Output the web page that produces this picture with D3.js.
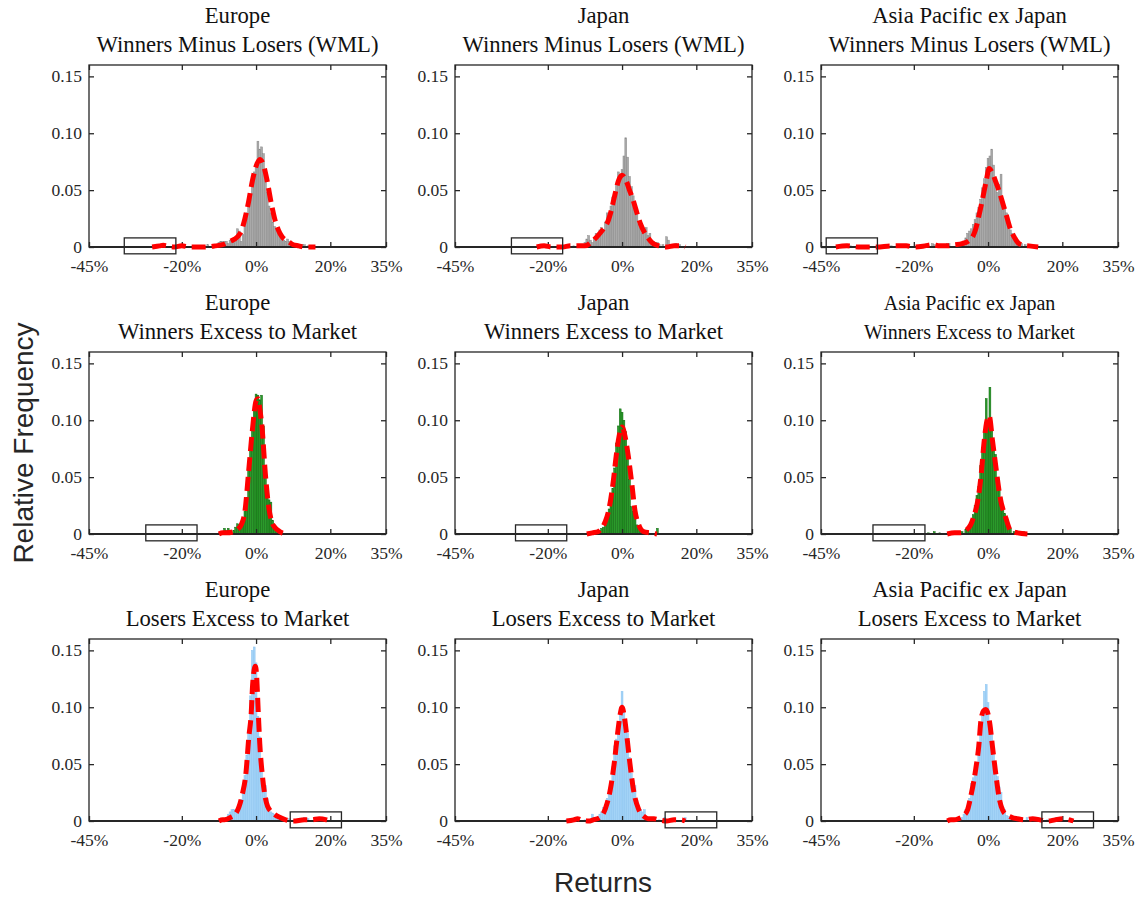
<!DOCTYPE html>
<html>
<head>
<meta charset="utf-8">
<script src="https://cdn.jsdelivr.net/npm/d3@7"></script>
<style>
  body { margin: 0; background: #fff; }
  svg { display: block; }
  .serif { font-family: "Liberation Serif", "DejaVu Serif", serif; font-variant-numeric: oldstyle-nums; }
</style>
</head>
<body>
<svg id="chart" width="1138" height="899"></svg>
<script>
// Panel labels
const regions = ["Europe", "Japan", "Asia Pacific ex Japan"];
const strategies = ["Winners Minus Losers (WML)", "Winners Excess to Market", "Losers Excess to Market"];

// Axis ticks (returns in %, relative frequency)
const xTickValues = [-45, -20, 0, 20, 35];
const xTickLabels = ["-45%", "-20%", "0%", "20%", "35%"];
const yTickValues = [0, 0.05, 0.10, 0.15];
const yTickLabels = ["0", "0.05", "0.10", "0.15"];
const binWidth = 0.5; // histogram bin width, in %

// Histograms: [bin centre %, relative frequency]
const euWmlHist = [[-26.5,0.001],[-25,0.001],[-20,0.001],[-13,0.002],[-11,0.002],[-10,0.004],[-9.5,0.005],[-9,0.005],[-8.5,0.005],[-8,0.005],[-7.5,0.003],[-7,0.006],[-6.5,0.006],[-6,0.004],[-5.5,0.006],[-5,0.016],[-4.5,0.014],[-4,0.005],[-3.5,0.011],[-3,0.022],[-2.5,0.030],[-2,0.043],[-1.5,0.046],[-1,0.058],[-0.5,0.066],[0,0.072],[0.5,0.093],[1,0.086],[1.5,0.088],[2,0.082],[2.5,0.062],[3,0.048],[3.5,0.036],[4,0.030],[4.5,0.022],[5,0.018],[5.5,0.016],[6,0.017],[6.5,0.010],[7,0.008],[7.5,0.006],[8,0.005],[8.5,0.007],[9,0.005],[9.5,0.003],[10,0.003],[11,0.001],[12.5,0.002],[13,0.002],[14,0.001]];
const jpWmlHist = [[-21,0.001],[-17,0.001],[-13,0.001],[-11,0.002],[-10,0.004],[-9.5,0.007],[-9,0.010],[-8.5,0.006],[-8,0.004],[-7.5,0.008],[-7,0.012],[-6.5,0.009],[-6,0.015],[-5.5,0.017],[-5,0.014],[-4.5,0.022],[-4,0.030],[-3.5,0.028],[-3,0.036],[-2.5,0.044],[-2,0.048],[-1.5,0.055],[-1,0.066],[-0.5,0.064],[0,0.068],[0.5,0.080],[1,0.096],[1.5,0.079],[2,0.062],[2.5,0.053],[3,0.045],[3.5,0.034],[4,0.030],[4.5,0.020],[5,0.019],[5.5,0.012],[6,0.016],[6.5,0.017],[7,0.010],[7.5,0.012],[8,0.006],[8.5,0.005],[9,0.004],[9.5,0.004],[10,0.002],[11,0.002],[12,0.009],[12.5,0.006],[13,0.002],[14.5,0.003],[15.5,0.002]];
const apWmlHist = [[-40,0.001],[-37,0.001],[-26,0.001],[-22,0.001],[-19,0.001],[-15,0.003],[-14.5,0.002],[-11,0.003],[-10.5,0.003],[-8,0.002],[-7,0.004],[-6.5,0.005],[-6,0.008],[-5.5,0.012],[-5,0.014],[-4.5,0.016],[-4,0.020],[-3.5,0.024],[-3,0.030],[-2.5,0.035],[-2,0.042],[-1.5,0.052],[-1,0.060],[-0.5,0.070],[0,0.078],[0.5,0.080],[1,0.086],[1.5,0.072],[2,0.054],[2.5,0.048],[3,0.055],[3.5,0.064],[4,0.040],[4.5,0.034],[5,0.030],[5.5,0.020],[6,0.015],[6.5,0.012],[7,0.008],[7.5,0.008],[8,0.005],[8.5,0.004],[9,0.003],[10,0.002],[11,0.001],[13,0.001]];
const euWinHist = [[-9,0.002],[-8.5,0.005],[-8,0.003],[-7.5,0.005],[-6,0.003],[-5.5,0.006],[-5,0.009],[-4.5,0.008],[-4,0.011],[-3.5,0.014],[-3,0.020],[-2.5,0.032],[-2,0.058],[-1.5,0.080],[-1,0.100],[-0.5,0.112],[0,0.123],[0.5,0.122],[1,0.118],[1.5,0.122],[2,0.095],[2.5,0.055],[3,0.032],[3.5,0.030],[4,0.028],[4.5,0.012],[5,0.006],[5.5,0.004],[6,0.002],[7,0.001]];
const jpWinHist = [[-8,0.001],[-7,0.002],[-6,0.003],[-5.5,0.005],[-5,0.006],[-4.5,0.008],[-4,0.015],[-3.5,0.022],[-3,0.031],[-2.5,0.040],[-2,0.058],[-1.5,0.080],[-1,0.095],[-0.5,0.110],[0,0.107],[0.5,0.100],[1,0.090],[1.5,0.068],[2,0.048],[2.5,0.024],[3,0.020],[3.5,0.015],[4,0.008],[4.5,0.006],[5,0.005],[6,0.002],[7,0.001],[9.5,0.005]];
const apWinHist = [[-16,0.001],[-14.5,0.002],[-13,0.001],[-10.5,0.001],[-8,0.002],[-7,0.002],[-6,0.004],[-5.5,0.005],[-5,0.008],[-4.5,0.012],[-4,0.017],[-3.5,0.025],[-3,0.034],[-2.5,0.042],[-2,0.060],[-1.5,0.076],[-1,0.092],[-0.5,0.119],[0,0.100],[0.5,0.129],[1,0.092],[1.5,0.074],[2,0.070],[2.5,0.050],[3,0.040],[3.5,0.032],[4,0.024],[4.5,0.018],[5,0.012],[5.5,0.008],[6,0.005],[7,0.002],[8,0.001],[9.5,0.002]];
const euLosHist = [[-9.5,0.001],[-8.5,0.002],[-8,0.003],[-7.5,0.006],[-7,0.008],[-6.5,0.010],[-6,0.010],[-5.5,0.009],[-5,0.010],[-4.5,0.012],[-4,0.019],[-3.5,0.030],[-3,0.040],[-2.5,0.058],[-2,0.080],[-1.5,0.110],[-1,0.150],[-0.5,0.153],[0,0.139],[0.5,0.092],[1,0.074],[1.5,0.052],[2,0.034],[2.5,0.031],[3,0.020],[3.5,0.012],[4,0.008],[4.5,0.007],[5,0.006],[5.5,0.004],[6,0.003],[6.5,0.002],[8,0.002],[9,0.002],[10.5,0.001],[13,0.003],[14,0.002]];
const jpLosHist = [[-15,0.001],[-12.5,0.002],[-10,0.001],[-8,0.006],[-7.5,0.003],[-6.5,0.004],[-6,0.006],[-5.5,0.008],[-5,0.012],[-4.5,0.014],[-4,0.020],[-3.5,0.024],[-3,0.033],[-2.5,0.048],[-2,0.066],[-1.5,0.072],[-1,0.086],[-0.5,0.100],[0,0.114],[0.5,0.097],[1,0.083],[1.5,0.077],[2,0.056],[2.5,0.042],[3,0.036],[3.5,0.031],[4,0.018],[4.5,0.012],[5,0.010],[5.5,0.008],[6,0.010],[6.5,0.004],[7,0.003],[8,0.002],[10,0.001],[11.5,0.003],[14,0.002],[17,0.003]];
const apLosHist = [[-10,0.001],[-8,0.002],[-7,0.003],[-6.5,0.006],[-6,0.010],[-5.5,0.012],[-5,0.020],[-4.5,0.033],[-4,0.038],[-3.5,0.044],[-3,0.050],[-2.5,0.058],[-2,0.077],[-1.5,0.092],[-1,0.114],[-0.5,0.120],[0,0.104],[0.5,0.088],[1,0.080],[1.5,0.062],[2,0.050],[2.5,0.039],[3,0.030],[3.5,0.025],[4,0.012],[4.5,0.010],[5,0.005],[5.5,0.004],[6,0.003],[7,0.002],[8,0.001],[10.5,0.003],[11.5,0.002],[16,0.001],[18.5,0.003]];

// Fitted density curves (red dashed): [return %, relative frequency]
const euWmlFit = [[-28,0],[-26,0.001],[-25,0.0015],[-24,0.001],[-22,0],[-20,0.001],[-18,0],[-14,0],[-11,0.001],[-9,0.002],[-7,0.005],[-5,0.009],[-4,0.014],[-3,0.025],[-2,0.040],[-1,0.058],[0,0.071],[1,0.077],[2,0.072],[3,0.058],[4,0.040],[5,0.025],[6,0.015],[7,0.009],[8,0.006],[9,0.004],[10,0.002],[11.5,0.001],[13,0],[16,0]];
const jpWmlFit = [[-23,0],[-21,0.001],[-19,0],[-16,0],[-14,0.001],[-12,0.001],[-10,0.001],[-8,0.005],[-6.5,0.010],[-5,0.016],[-4,0.021],[-3,0.031],[-2,0.045],[-1,0.058],[0,0.063],[1,0.059],[2,0.050],[3,0.041],[4,0.030],[5,0.020],[6,0.013],[7,0.008],[8,0.004],[9,0.002],[10,0.001],[12,0],[14,0.001],[16,0.001],[17,0]];
const apWmlFit = [[-41,0],[-38,0.001],[-35,0],[-30,0],[-26,0.001],[-22,0.001],[-20,0],[-17,0.001],[-15,0.002],[-13,0.001],[-11,0.001],[-9,0.002],[-7,0.003],[-5,0.006],[-4,0.010],[-3.5,0.014],[-2.5,0.027],[-1.5,0.042],[-0.5,0.058],[0.3,0.069],[1,0.066],[2,0.058],[3,0.049],[4,0.038],[5,0.027],[6,0.016],[7,0.009],[8,0.004],[9,0.002],[11,0.001],[13.5,0]];
const euWinFit = [[-10,0],[-9,0.001],[-8,0.001],[-6,0.002],[-5,0.004],[-4,0.008],[-3,0.020],[-2,0.055],[-1,0.091],[0,0.117],[0.5,0.119],[1,0.110],[1.6,0.094],[2.5,0.053],[3.4,0.024],[4.2,0.011],[5,0.006],[6,0.003],[7,0.001],[8.3,0]];
const jpWinFit = [[-9.5,0],[-8,0.001],[-6.5,0.002],[-5.5,0.005],[-4.5,0.011],[-3.4,0.024],[-2.3,0.048],[-1.6,0.068],[-0.8,0.086],[0,0.094],[0.8,0.086],[1.7,0.068],[2.6,0.045],[3.5,0.020],[4.5,0.008],[5.8,0.002],[7.5,0.001],[9.4,0]];
const apWinFit = [[-11,0],[-9,0.001],[-7.4,0.001],[-6,0.003],[-4.7,0.008],[-3.8,0.016],[-2.9,0.027],[-1.8,0.054],[-1.1,0.080],[-0.4,0.098],[0.3,0.104],[1.2,0.082],[2.1,0.059],[3.2,0.033],[4.8,0.014],[6.1,0.003],[8,0.001],[10.6,0]];
const euLosFit = [[-10,0],[-9,0.001],[-8.5,0.001],[-7,0.003],[-5.4,0.007],[-3.8,0.022],[-2.7,0.043],[-2,0.072],[-1.3,0.095],[-0.9,0.121],[-0.2,0.136],[0.1,0.130],[0.6,0.095],[1,0.068],[1.7,0.040],[3.1,0.013],[4.9,0.006],[6.5,0.003],[8,0.001],[10,0],[13,0.001],[15,0.001],[17,0.002],[19,0.001],[20,0]];
const jpLosFit = [[-15,0],[-13,0.001],[-12,0.002],[-11,0.001],[-9,0],[-7.8,0.001],[-6,0.003],[-5,0.007],[-4,0.016],[-3.2,0.027],[-2.1,0.051],[-1.2,0.077],[-0.5,0.094],[0,0.100],[0.5,0.094],[1.2,0.077],[2.1,0.051],[3.2,0.025],[4.5,0.010],[5.9,0.004],[7,0.002],[8.6,0.002],[10,0.001],[12,0],[14,0.001],[16,0.001],[17,0]];
const apLosFit = [[-11,0],[-10,0.001],[-9.2,0.001],[-8,0.002],[-6.5,0.005],[-5.5,0.010],[-4.7,0.021],[-3.3,0.046],[-2.5,0.066],[-1.9,0.089],[-1.2,0.097],[-0.6,0.098],[0,0.094],[0.5,0.085],[1.2,0.065],[2.1,0.041],[3,0.020],[4,0.009],[5.2,0.005],[6.5,0.003],[7.9,0.002],[10,0.001],[12,0.002],[14,0.001],[16,0],[18,0.001],[20,0.002],[22,0.001],[23,0]];

// Tail boxes: [from %, to %]
const tailBoxes = [[-35.5,-21.6],[-29.8,-16.0],[-43.6,-29.8],[-29.7,-15.9],[-28.7,-14.9],[-31.0,-17.0],[9.2,23.0],[11.6,25.5],[14.5,28.4]];

const hists = [euWmlHist, jpWmlHist, apWmlHist, euWinHist, jpWinHist, apWinHist, euLosHist, jpLosHist, apLosHist];
const fits = [euWmlFit, jpWmlFit, apWmlFit, euWinFit, jpWinFit, apWinFit, euLosFit, jpLosFit, apLosFit];

// Bar colours by row (strategy)
const barFill = ["#a9a9a9", "#2b9a2b", "#a3d3f7"];
const barEdge = ["#8a8a8a", "#0d680d", "#8cc4f0"];

const svg = d3.select("#chart");
const colLeft = [89, 455, 821];
const rowTop = [65, 352, 639];
const pw = 297, ph = 182;
const ink = "#262626";

hists.forEach((hist, i) => {
    const row = Math.floor(i / 3), col = i % 3;
    const g = svg.append("g").attr("transform", `translate(${colLeft[col]},${rowTop[row]})`);

    const x = d3.scaleLinear().domain([-45, 35]).range([0, pw]);
    const y = d3.scaleLinear().domain([0, 0.16]).range([ph, 0]);

    // bars
    g.append("g")
        .selectAll("rect")
        .data(hist)
        .enter()
        .append("rect")
        .attr("x", d => x(d[0] - binWidth / 2))
        .attr("y", d => y(d[1]))
        .attr("width", x(binWidth) - x(0))
        .attr("height", d => y(0) - y(d[1]))
        .attr("fill", barFill[row])
        .attr("stroke", barEdge[row])
        .attr("stroke-width", 0.5);

    // frame
    g.append("rect")
        .attr("width", pw).attr("height", ph)
        .attr("fill", "none").attr("stroke", ink).attr("stroke-width", 1.3);

    // axes, ticks pointing inward
    g.append("g")
        .attr("transform", `translate(0,${ph})`)
        .call(d3.axisBottom(x).tickValues(xTickValues).tickSizeInner(-5).tickSizeOuter(0).tickPadding(13)
            .tickFormat((d, k) => xTickLabels[k]));
    g.append("g")
        .call(d3.axisTop(x).tickValues(xTickValues).tickSizeInner(-5).tickSizeOuter(0).tickFormat(""));
    g.append("g")
        .call(d3.axisLeft(y).tickValues(yTickValues).tickSizeInner(-5).tickSizeOuter(0).tickPadding(7)
            .tickFormat((d, k) => yTickLabels[k]));
    g.append("g")
        .attr("transform", `translate(${pw},0)`)
        .call(d3.axisRight(y).tickValues(yTickValues).tickSizeInner(-5).tickSizeOuter(0).tickFormat(""));

    g.selectAll(".domain").remove();
    g.selectAll(".tick line").attr("stroke", ink).attr("stroke-width", 1.3);
    g.selectAll(".tick text")
        .attr("class", "serif")
        .attr("fill", ink)
        .style("font-size", "17.5px");

    // heavier baseline
    g.append("line")
        .attr("x1", 0).attr("x2", pw).attr("y1", y(0)).attr("y2", y(0))
        .attr("stroke", ink).attr("stroke-width", 2.2);

    // fitted curve
    const line = d3.line()
        .x(d => x(d[0]))
        .y(d => y(d[1]))
        .curve(d3.curveMonotoneX);
    g.append("path")
        .datum(fits[i])
        .attr("d", line)
        .attr("fill", "none")
        .attr("stroke", "#ff0000")
        .attr("stroke-width", 5)
        .attr("stroke-dasharray", "14,6");

    // tail box
    const b = tailBoxes[i];
    g.append("rect")
        .attr("x", x(b[0]))
        .attr("y", y(0.008))
        .attr("width", x(b[1]) - x(b[0]))
        .attr("height", y(-0.006) - y(0.008))
        .attr("fill", "none")
        .attr("stroke", ink)
        .attr("stroke-width", 1.3);

    // titles
    const small = (row === 1 && col === 2);
    const t = g.append("text")
        .attr("class", "serif")
        .attr("text-anchor", "middle")
        .attr("fill", "#111")
        .style("font-size", small ? "20px" : "22.7px");
    t.append("tspan").attr("x", pw / 2).attr("y", -42).text(regions[col]);
    t.append("tspan").attr("x", pw / 2).attr("y", -13).text(strategies[row]);
});

// shared axis labels
svg.append("text")
    .attr("transform", "translate(33,443) rotate(-90)")
    .attr("text-anchor", "middle")
    .attr("fill", ink)
    .style("font-family", "'Liberation Sans', Arial, sans-serif")
    .style("font-size", "28px")
    .text("Relative Frequency");

svg.append("text")
    .attr("x", 603)
    .attr("y", 892)
    .attr("text-anchor", "middle")
    .attr("fill", ink)
    .style("font-family", "'Liberation Sans', Arial, sans-serif")
    .style("font-size", "28px")
    .text("Returns");
</script>
</body>
</html>
